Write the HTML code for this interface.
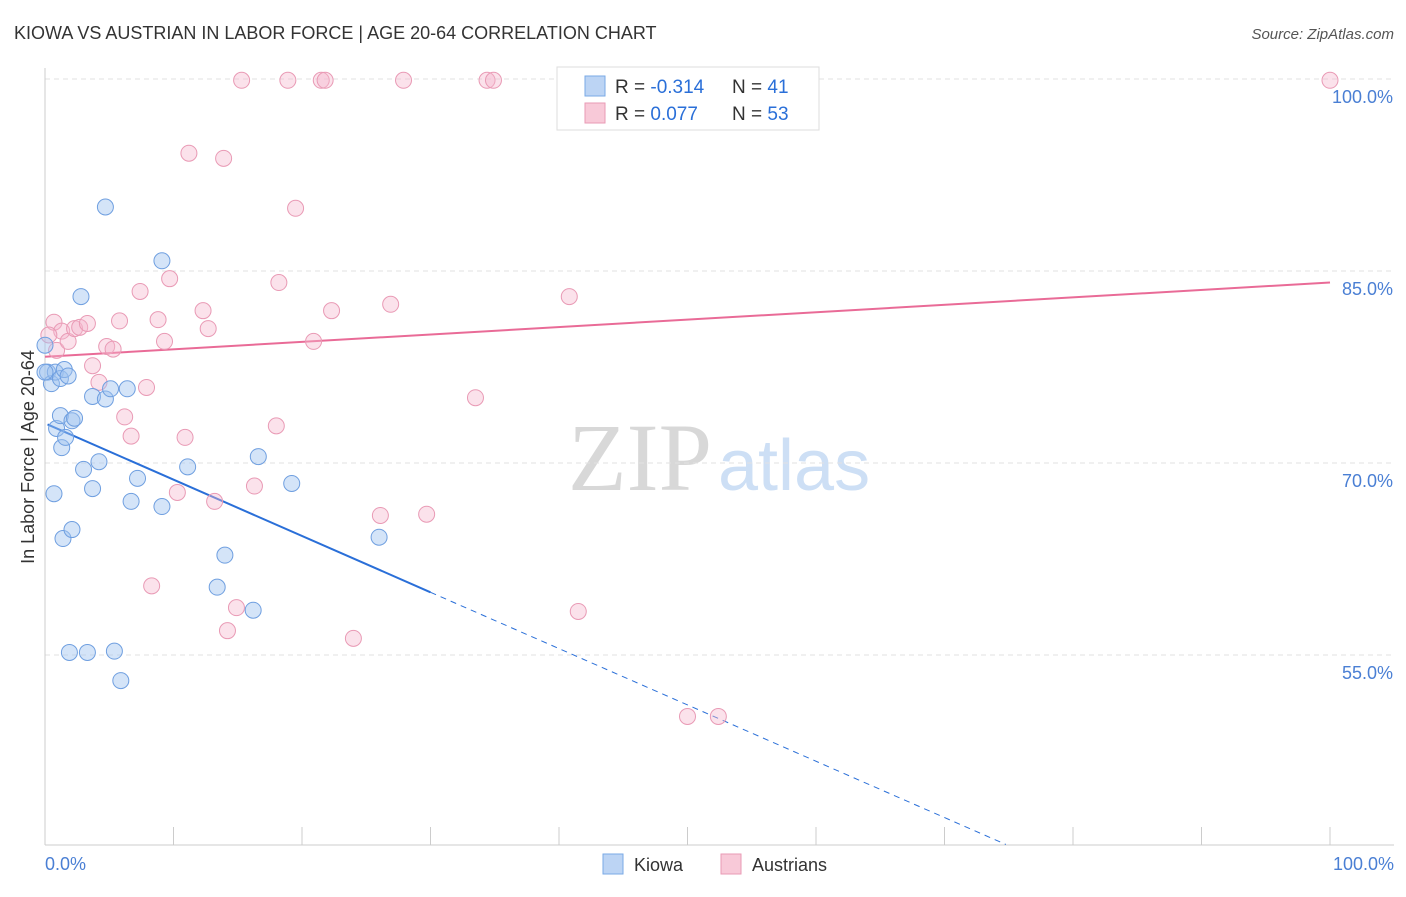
<!DOCTYPE html>
<html><head><meta charset="utf-8"><style>
body{margin:0;background:#fff;font-family:"Liberation Sans",sans-serif;}
</style></head><body>
<svg id="c" width="1406" height="892" font-family="Liberation Sans, sans-serif" xmlns="http://www.w3.org/2000/svg">
<text x="14" y="39" font-size="18" fill="#333">KIOWA VS AUSTRIAN IN LABOR FORCE | AGE 20-64 CORRELATION CHART</text>
<text x="1394" y="39" font-size="15" fill="#555" text-anchor="end" font-style="italic">Source: ZipAtlas.com</text>
<text x="712" y="490" font-size="96" fill="#d8d8d8" text-anchor="end" style="font-family:'Liberation Serif',serif">ZIP</text>
<text x="718" y="490" font-size="72" fill="#cddff5">atlas</text>
<g id="grid"></g><g id="axes"></g><g id="lines"></g><g id="pts"></g>
<text transform="translate(34,457) rotate(-90)" font-size="18" fill="#333" text-anchor="middle">In Labor Force | Age 20-64</text>
<text x="45" y="870" font-size="18" fill="#4a7fd4">0.0%</text>
<text x="1394" y="870" font-size="18" fill="#4a7fd4" text-anchor="end">100.0%</text>
<g>
<rect x="557" y="67" width="262" height="63" fill="#fff" stroke="#ddd"/>
<rect x="585" y="76" width="20" height="20" fill="#bcd4f4" stroke="#7aaae6"/>
<rect x="585" y="103" width="20" height="20" fill="#f8c9d8" stroke="#e99ab5"/>
<text x="615" y="93" font-size="19" fill="#333">R = <tspan fill="#2a6fd8">-0.314</tspan></text>
<text x="732" y="93" font-size="19" fill="#333">N = <tspan fill="#2a6fd8">41</tspan></text>
<text x="615" y="120" font-size="19" fill="#333">R = <tspan fill="#2a6fd8"> 0.077</tspan></text>
<text x="732" y="120" font-size="19" fill="#333">N = <tspan fill="#2a6fd8">53</tspan></text>
</g>
<g><rect x="603" y="854" width="20" height="20" fill="#bcd4f4" stroke="#7aaae6"/><text x="634" y="871" font-size="18" fill="#333">Kiowa</text></g>
<g><rect x="721" y="854" width="20" height="20" fill="#f8c9d8" stroke="#e99ab5"/><text x="752" y="871" font-size="18" fill="#333">Austrians</text></g>
</svg>
<script>
const yTicks=[100,85,70,55];
const yTickLabels=["100.0%","85.0%","70.0%","55.0%"];
const kiowaX=[0,0.2,0.5,0.8,1.2,1.5,1.8,0.9,1.2,1.3,1.6,2.1,2.3,0.7,1.4,2.1,1.9,3.3,3.0,3.7,4.2,3.7,4.7,5.1,6.4,4.7,2.8,9.1,6.7,7.2,9.1,11.1,14.0,13.4,16.2,16.6,19.2,26.0,5.4,5.9,0];
const kiowaY=[79.2,77.1,76.2,77.1,76.6,77.3,76.8,72.7,73.7,71.2,72.0,73.3,73.5,67.6,64.1,64.8,55.2,55.2,69.5,68.0,70.1,75.2,75.0,75.8,75.8,90.0,83.0,85.8,67.0,68.8,66.6,69.7,62.8,60.3,58.5,70.5,68.4,64.2,55.3,53.0,77.1];
const austX=[0.7,0.9,1.3,1.8,2.3,2.7,3.3,3.7,4.2,4.8,5.3,5.8,6.2,6.7,7.4,7.9,8.8,9.3,9.7,10.3,10.9,11.2,12.3,12.7,13.2,13.9,14.2,14.9,15.3,16.3,18.0,18.2,18.9,19.5,20.9,21.5,21.8,22.3,24.0,26.1,26.9,27.9,29.7,33.5,34.4,34.9,40.8,41.5,47.3,50.0,52.4,100,0.3,8.3];
const austY=[81.0,78.8,80.3,79.5,80.5,80.6,80.9,77.6,76.3,79.1,78.9,81.1,73.6,72.1,83.4,75.9,81.2,79.5,84.4,67.7,72.0,94.2,81.9,80.5,67.0,93.8,56.9,58.7,99.9,68.2,72.9,84.1,99.9,89.9,79.5,99.9,99.9,81.9,56.3,65.9,82.4,99.9,66.0,75.1,99.9,99.9,83.0,58.4,99.9,50.2,50.2,99.9,80.0,60.4];
const kiowaTrend=[73.1,-0.44];
const austTrend=[78.3,0.058];
const NS="http://www.w3.org/2000/svg";
const X=v=>45+v*12.85, Y=v=>79+(100-v)*12.8;
function mk(t,a,p){const e=document.createElementNS(NS,t);for(const k in a)e.setAttribute(k,a[k]);document.getElementById(p).appendChild(e);return e;}
yTicks.forEach((t,i)=>{
 const l=mk('line',{x1:45,x2:1394,y1:Y(t),y2:Y(t),stroke:'#e2e2e2','stroke-dasharray':'5,4'},'grid');
 
 
 const tx=mk('text',{x:1393,y:Y(t)+24,'font-size':18,fill:'#4a7fd4','text-anchor':'end'},'grid');
 tx.textContent=yTickLabels[i];
 
 
});
const ax=mk('line',{x1:45,x2:45,y1:68,y2:845,stroke:'#ccc'},'axes');


const bx=mk('line',{x1:45,x2:1394,y1:845,y2:845,stroke:'#ccc'},'axes');


for(let i=0;i<=10;i++){const t=mk('line',{x1:X(i*10),x2:X(i*10),y1:827,y2:845,stroke:'#ccc'},'axes');
 
 }
const kEnd=30, kStop=(40.2-kiowaTrend[0])/kiowaTrend[1];
const k1=mk('line',{x1:X(0.2),y1:Y(kiowaTrend[0]+kiowaTrend[1]*0.2),x2:X(kEnd),y2:Y(kiowaTrend[0]+kiowaTrend[1]*kEnd),stroke:'#2a6fd8','stroke-width':2},'lines');


const k2=mk('line',{x1:X(kEnd),y1:Y(kiowaTrend[0]+kiowaTrend[1]*kEnd),x2:X(kStop),y2:Y(40.2),stroke:'#2a6fd8','stroke-width':1,'stroke-dasharray':'6,5'},'lines');


const a1=mk('line',{x1:X(0),y1:Y(austTrend[0]),x2:X(100),y2:Y(austTrend[0]+austTrend[1]*100),stroke:'#e96b97','stroke-width':2},'lines');


austX.forEach((x,i)=>{const c=mk('circle',{cx:X(x),cy:Y(austY[i]),r:8,fill:'rgba(246,183,205,0.4)',stroke:'#e99ab5','stroke-width':1},'pts');
 
 });
kiowaX.forEach((x,i)=>{const c=mk('circle',{cx:X(x),cy:Y(kiowaY[i]),r:8,fill:'rgba(160,196,240,0.45)',stroke:'#6f9fe0','stroke-width':1},'pts');
 
 });
</script>
</body></html>
